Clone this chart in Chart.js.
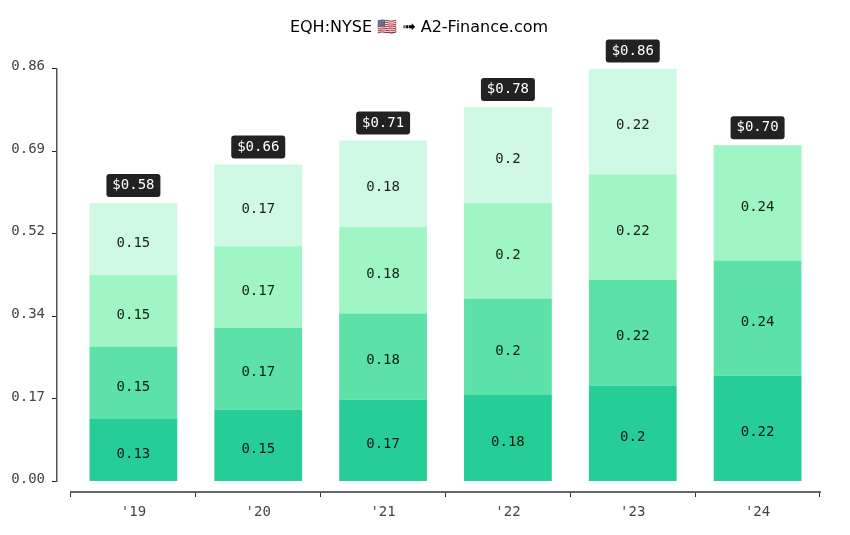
<!DOCTYPE html>
<html>
<head>
<meta charset="utf-8">
<style>html,body{margin:0;padding:0;background:#fff}canvas{display:block}</style>
<script src="https://cdn.jsdelivr.net/npm/chart.js@4"></script>
</head>
<body>
<canvas id="c" width="850" height="535"></canvas>
<script>
const titleText = "EQH:NYSE 🇺🇸 ➟ A2-Finance.com";
const categories = ["'19","'20","'21","'22","'23","'24"];
const seriesA = [0.13,0.15,0.17,0.18,0.2,0.22];
const seriesB = [0.15,0.17,0.18,0.2,0.22,0.24];
const seriesC = [0.15,0.17,0.18,0.2,0.22,0.24];
const seriesD = [0.15,0.17,0.18,0.2,0.22,null];
const totals = ["$0.58","$0.66","$0.71","$0.78","$0.86","$0.70"];
const yTicks = [0,0.172,0.344,0.516,0.688,0.86];
const colors = ["#26cd97","#5ce1a9","#9ff5c3","#cff9e4"];
const MONO = "'DejaVu Sans Mono', monospace";

const labelsPlugin = {
  id:'stackLabels',
  afterDatasetsDraw(chart){
    const ctx = chart.ctx;
    ctx.save();
    ctx.font = "14px "+MONO;
    ctx.textAlign='center';
    ctx.textBaseline='middle';
    const tops = categories.map(()=>null);
    chart.data.datasets.forEach((ds,i)=>{
      chart.getDatasetMeta(i).data.forEach((el,j)=>{
        if(ds.data[j]==null) return;
        const p = el.getProps(['x','y','base'],true);
        ctx.fillStyle='rgba(0,0,0,0.87)';
        ctx.fillText(String(ds.data[j]),p.x,(p.y+p.base)/2+4);
        tops[j]={x:p.x,y:p.y};
      });
    });
    tops.forEach((t,j)=>{
      const w=54,h=23,cy=t.y-17.5;
      ctx.fillStyle='#222222';
      ctx.beginPath();
      ctx.roundRect(t.x-w/2,cy-h/2,w,h,3);
      ctx.fill();
      ctx.fillStyle='#fff';
      ctx.fillText(totals[j],t.x,cy);
    });
    ctx.restore();
  }
};

new Chart(document.getElementById('c'),{
  type:'bar',
  data:{
    labels:categories,
    datasets:[seriesA,seriesB,seriesC,seriesD].map((d,i)=>({
      data:d,backgroundColor:colors[i],borderWidth:0,
      barPercentage:0.703,categoryPercentage:1
    }))
  },
  plugins:[labelsPlugin],
  options:{
    responsive:false,animation:false,
    layout:{padding:{left:0,right:12,top:0,bottom:0}},
    plugins:{
      legend:{display:false},tooltip:{enabled:false},
      title:{display:true,text:titleText,color:'#000',
        font:{family:"'DejaVu Sans', sans-serif",size:16,weight:'normal'},
        padding:{top:18.4,bottom:30.9}}
    },
    scales:{
      x:{
        stacked:true,position:'bottom',weight:2,
        grid:{offset:true,drawOnChartArea:false,drawTicks:true,tickLength:5,tickColor:'#333',tickWidth:1},
        border:{display:true,color:'#666',width:2},
        ticks:{color:'#444',font:{family:MONO,size:14},padding:7,autoSkip:false,maxRotation:0},
        afterFit(s){s.height=43;}
      },
      xGap:{
        type:'linear',axis:'x',position:'bottom',weight:1,display:true,
        grid:{display:false},border:{display:false},ticks:{display:false},
        afterFit(s){s.height=10.5;}
      },
      y:{
        stacked:true,position:'left',weight:2,min:0,max:0.86,
        afterBuildTicks(a){a.ticks=yTicks.map(v=>({value:v}));},
        grid:{drawOnChartArea:false,drawTicks:true,tickLength:5,tickColor:'#222',tickWidth:1},
        border:{display:true,color:'#555',width:1.5},
        ticks:{color:'#444',font:{family:MONO,size:14,lineHeight:0.27},padding:7,callback:v=>[Number(v).toFixed(2),""]},
        afterFit(s){s.width=57;}
      },
      yGap:{
        type:'linear',axis:'y',position:'left',weight:1,display:true,
        grid:{display:false},border:{display:false},ticks:{display:false},
        afterFit(s){s.width=14;}
      },
      rGap:{
        type:'linear',axis:'y',position:'right',weight:1,display:true,
        grid:{display:false},border:{display:false},ticks:{display:false},
        afterFit(s){s.width=18;}
      }
    }
  }
});
</script>
</body>
</html>
